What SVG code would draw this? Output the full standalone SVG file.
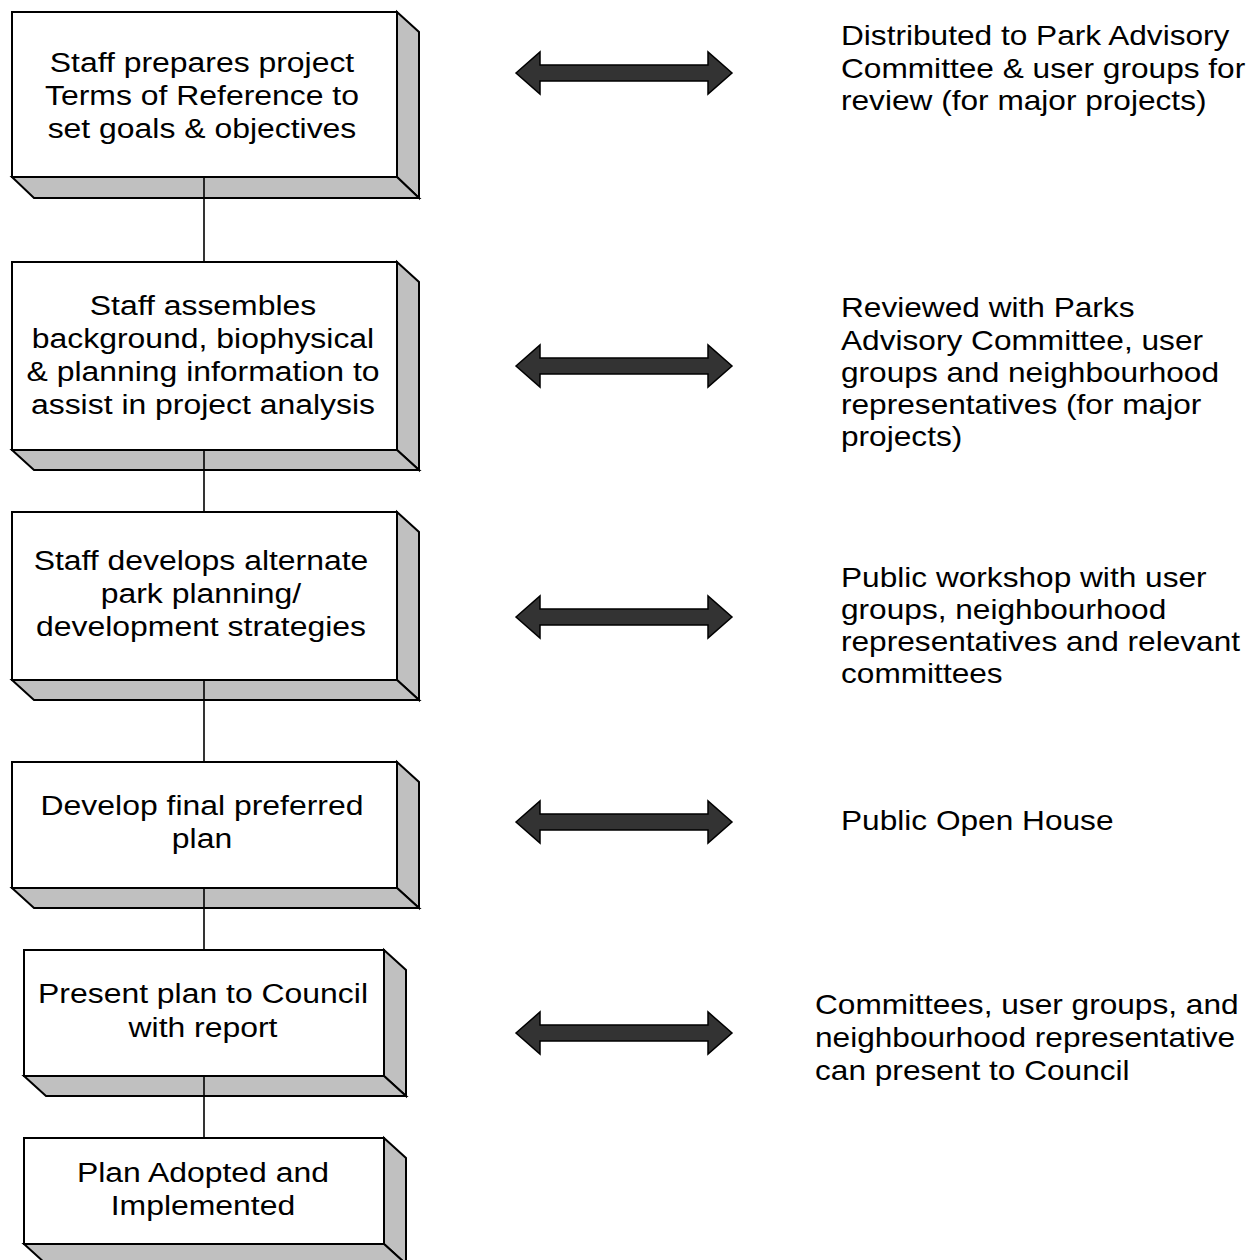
<svg xmlns="http://www.w3.org/2000/svg" xmlns:xlink="http://www.w3.org/1999/xlink" width="1249" height="1260" viewBox="0 0 1249 1260">
  <style>
    .front { fill: #ffffff; stroke: #000000; stroke-width: 2; }
    .shade { fill: #c0c0c0; stroke: #000000; stroke-width: 2; stroke-linejoin: miter; }
    .link { stroke: #000000; stroke-width: 1.6; fill: none; }
    .arrow { fill: #333333; stroke: #000000; stroke-width: 1.5; stroke-linejoin: miter; }
    .lbl { font-family: "Liberation Sans", Arial, sans-serif; font-size: 28px; fill: #000000; }
    .mid { text-anchor: middle; }
  </style>
  <defs>
    <!-- double-headed block arrow, centred on y = 0 -->
    <path id="dblArrow" class="arrow" d="M516,0 L540,-21 L540,-8 L708,-8 L708,-21 L732,0 L708,21 L708,8 L540,8 L540,21 Z"/>
  </defs>

  <rect width="1249" height="1260" fill="#ffffff"/>

  <!-- step boxes: gray bevel faces first, then the white front -->
  <g id="step1">
    <polygon class="shade" points="397,12 419,32 419,198 397,177"/>
    <polygon class="shade" points="12,177 34,198 419,198 397,177"/>
    <rect class="front" x="12" y="12" width="385" height="165"/>
  </g>
  <g id="step2">
    <polygon class="shade" points="397,262 419,282 419,470 397,450"/>
    <polygon class="shade" points="12,450 34,470 419,470 397,450"/>
    <rect class="front" x="12" y="262" width="385" height="188"/>
  </g>
  <g id="step3">
    <polygon class="shade" points="397,512 419,532 419,700 397,680"/>
    <polygon class="shade" points="12,680 34,700 419,700 397,680"/>
    <rect class="front" x="12" y="512" width="385" height="168"/>
  </g>
  <g id="step4">
    <polygon class="shade" points="397,762 419,782 419,908 397,888"/>
    <polygon class="shade" points="12,888 34,908 419,908 397,888"/>
    <rect class="front" x="12" y="762" width="385" height="126"/>
  </g>
  <g id="step5">
    <polygon class="shade" points="384,950 406,970 406,1096 384,1076"/>
    <polygon class="shade" points="24,1076 46,1096 406,1096 384,1076"/>
    <rect class="front" x="24" y="950" width="360" height="126"/>
  </g>
  <g id="step6">
    <polygon class="shade" points="384,1138 406,1158 406,1264 384,1244"/>
    <polygon class="shade" points="24,1244 46,1264 406,1264 384,1244"/>
    <rect class="front" x="24" y="1138" width="360" height="106"/>
  </g>

  <!-- vertical connectors between steps and block arrows to the side notes -->
  <g id="connectors">
    <line class="link" x1="204" y1="177" x2="204" y2="262"/>
    <line class="link" x1="204" y1="450" x2="204" y2="512"/>
    <line class="link" x1="204" y1="680" x2="204" y2="762"/>
    <line class="link" x1="204" y1="888" x2="204" y2="950"/>
    <line class="link" x1="204" y1="1076" x2="204" y2="1138"/>
    <use xlink:href="#dblArrow" href="#dblArrow" transform="translate(0,73)"/>
    <use xlink:href="#dblArrow" href="#dblArrow" transform="translate(0,366)"/>
    <use xlink:href="#dblArrow" href="#dblArrow" transform="translate(0,617)"/>
    <use xlink:href="#dblArrow" href="#dblArrow" transform="translate(0,822)"/>
    <use xlink:href="#dblArrow" href="#dblArrow" transform="translate(0,1033)"/>
  </g>

  <!-- step labels (type is slightly widened) -->
  <g id="step1-label" transform="translate(202,0) scale(1.14,1) translate(-202,0)">
    <text class="lbl mid" x="202" y="72">Staff prepares project</text>
    <text class="lbl mid" x="202" y="105">Terms of Reference to</text>
    <text class="lbl mid" x="202" y="138">set goals &amp; objectives</text>
  </g>
  <g id="step2-label" transform="translate(203,0) scale(1.14,1) translate(-203,0)">
    <text class="lbl mid" x="203" y="315">Staff assembles</text>
    <text class="lbl mid" x="203" y="348">background, biophysical</text>
    <text class="lbl mid" x="203" y="381">&amp; planning information to</text>
    <text class="lbl mid" x="203" y="414">assist in project analysis</text>
  </g>
  <g id="step3-label" transform="translate(201,0) scale(1.14,1) translate(-201,0)">
    <text class="lbl mid" x="201" y="570">Staff develops alternate</text>
    <text class="lbl mid" x="201" y="603">park planning/</text>
    <text class="lbl mid" x="201" y="636">development strategies</text>
  </g>
  <g id="step4-label" transform="translate(202,0) scale(1.14,1) translate(-202,0)">
    <text class="lbl mid" x="202" y="815">Develop final preferred</text>
    <text class="lbl mid" x="202" y="848">plan</text>
  </g>
  <g id="step5-label" transform="translate(203,0) scale(1.14,1) translate(-203,0)">
    <text class="lbl mid" x="203" y="1003">Present plan to Council</text>
    <text class="lbl mid" x="203" y="1037">with report</text>
  </g>
  <g id="step6-label" transform="translate(203,0) scale(1.14,1) translate(-203,0)">
    <text class="lbl mid" x="203" y="1182">Plan Adopted and</text>
    <text class="lbl mid" x="203" y="1215">Implemented</text>
  </g>

  <!-- side notes -->
  <g id="note1" transform="translate(841,0) scale(1.13,1) translate(-841,0)">
    <text class="lbl" x="841" y="45">Distributed to Park Advisory</text>
    <text class="lbl" x="841" y="78">Committee &amp; user groups for</text>
    <text class="lbl" x="841" y="110">review (for major projects)</text>
  </g>
  <g id="note2" transform="translate(841,0) scale(1.13,1) translate(-841,0)">
    <text class="lbl" x="841" y="317">Reviewed with Parks</text>
    <text class="lbl" x="841" y="350">Advisory Committee, user</text>
    <text class="lbl" x="841" y="382">groups and neighbourhood</text>
    <text class="lbl" x="841" y="414">representatives (for major</text>
    <text class="lbl" x="841" y="446">projects)</text>
  </g>
  <g id="note3" transform="translate(841,0) scale(1.13,1) translate(-841,0)">
    <text class="lbl" x="841" y="587">Public workshop with user</text>
    <text class="lbl" x="841" y="619">groups, neighbourhood</text>
    <text class="lbl" x="841" y="651">representatives and relevant</text>
    <text class="lbl" x="841" y="683">committees</text>
  </g>
  <g id="note4" transform="translate(841,0) scale(1.13,1) translate(-841,0)">
    <text class="lbl" x="841" y="830">Public Open House</text>
  </g>
  <g id="note5" transform="translate(815,0) scale(1.13,1) translate(-815,0)">
    <text class="lbl" x="815" y="1014">Committees, user groups, and</text>
    <text class="lbl" x="815" y="1047">neighbourhood representative</text>
    <text class="lbl" x="815" y="1080">can present to Council</text>
  </g>
</svg>
